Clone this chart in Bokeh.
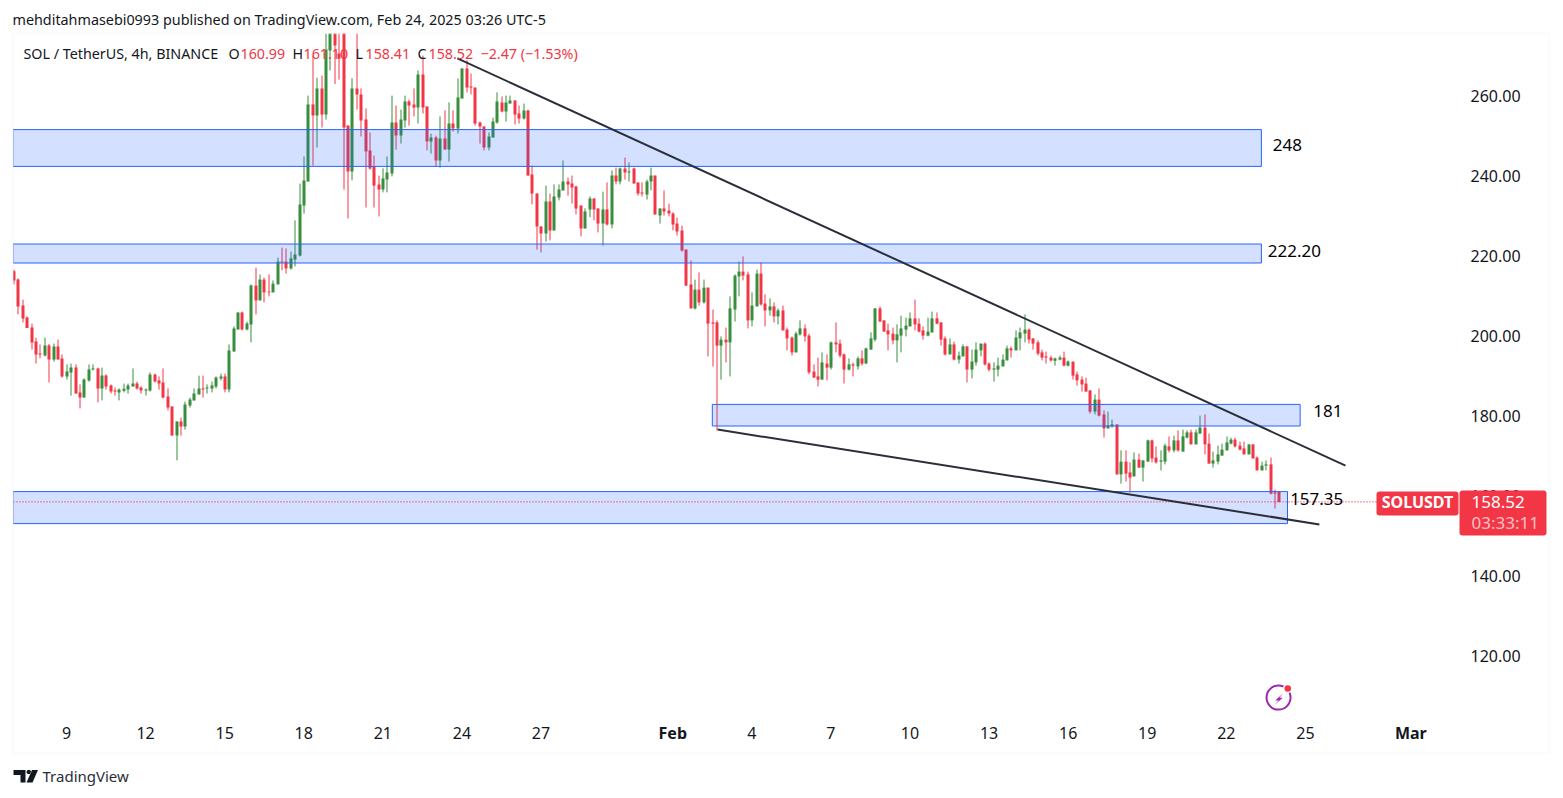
from bokeh.plotting import figure
from bokeh.models import (Range1d, FixedTicker, NumeralTickFormatter, Label, BoxAnnotation, PolyAnnotation,
                          ColumnDataSource)
from bokeh.embed import file_html
from bokeh.resources import INLINE

# 4h candles, one sixth of a day apart, first one on Jan 7
opens = [
216.2,214.1,207.6,204.6,202.1,198.6,195.6,195.1,197.6,194.1,
197.4,194.4,189.9,190.9,192.1,185.9,184.6,188.9,191.6,191.9,
186.9,190.1,187.6,186.4,185.9,186.3,186.6,187.4,188.1,187.1,
186.4,186.4,190.4,188.9,188.4,184.9,182.4,175.1,178.6,177.4,
182.6,183.9,185.4,186.9,186.9,186.9,187.4,189.4,189.9,186.6,
196.1,201.6,205.9,201.6,202.9,212.6,208.9,214.1,211.1,210.9,
212.9,218.6,218.6,216.9,219.1,220.1,232.6,238.6,257.9,255.1,
261.9,255.4,271.4,283.0,270.6,280.0,252.6,241.1,261.9,260.4,
254.1,246.4,242.4,237.9,236.6,239.1,240.6,253.4,250.1,253.9,
258.6,257.9,257.1,265.4,257.4,248.6,249.6,243.9,249.4,246.6,
253.1,251.9,259.4,266.9,262.4,262.1,253.4,252.4,247.1,249.6,
253.4,258.4,256.1,258.1,258.9,255.6,254.4,256.4,240.4,235.6,
227.4,225.6,233.6,226.4,234.6,236.4,238.6,238.1,237.4,232.6,
226.9,231.6,234.4,231.9,228.1,231.6,227.9,240.1,238.6,241.9,
240.9,241.9,238.4,235.9,235.4,238.6,240.1,230.1,231.9,231.4,
230.6,228.1,226.4,221.6,212.9,206.9,211.6,208.4,212.1,203.4,
203.4,197.6,199.1,198.4,206.6,214.9,216.1,215.4,203.9,207.4,
215.6,208.1,206.4,207.4,204.9,206.4,201.6,199.6,195.9,200.4,
201.9,200.1,191.1,189.9,189.1,193.1,192.1,198.4,198.1,195.4,
191.6,192.9,192.4,194.4,193.1,196.6,199.1,206.9,203.9,201.4,
200.6,198.9,200.1,201.6,202.4,204.4,203.1,201.4,200.1,200.9,
204.4,203.4,199.4,195.4,197.9,194.1,194.9,197.4,191.6,193.4,
196.4,198.1,193.1,191.6,191.6,192.4,193.9,196.9,196.4,199.4,
200.6,201.6,199.4,198.4,195.9,194.9,194.6,193.8,194.1,194.6,
192.6,193.6,190.4,189.1,188.1,186.4,181.1,184.1,180.4,176.9,
177.4,177.9,165.4,168.6,165.9,164.9,169.1,167.1,168.6,173.9,
169.6,168.6,168.6,172.4,171.4,173.9,171.1,174.6,175.9,172.9,
175.6,177.1,173.1,168.1,168.6,170.1,171.4,173.1,174.1,172.6,
171.9,170.4,172.9,169.6,166.4,167.6,167.9,160.9,160.99]
highs = [
216.6,214.4,209.1,204.9,203.1,199.6,197.9,199.6,198.0,198.1,
199.1,195.4,192.9,193.1,192.9,187.9,189.4,192.9,192.9,192.1,
192.1,190.4,187.9,187.1,186.9,188.1,188.1,191.9,188.6,187.4,
186.9,190.9,190.6,189.9,191.9,186.9,182.4,178.6,179.6,183.6,
184.6,186.9,190.1,190.1,187.9,188.6,189.9,190.6,190.6,197.9,
202.4,205.9,206.1,203.6,212.9,217.1,215.4,214.6,215.4,213.9,
219.6,222.1,221.9,221.1,228.9,238.1,244.9,260.1,270.1,264.6,
265.1,278.0,295.0,294.0,285.0,285.0,252.6,264.4,276.0,261.9,
256.9,250.9,245.1,240.1,241.9,244.9,260.1,257.6,256.6,260.1,
259.1,261.9,266.4,270.1,257.4,250.6,250.1,254.9,256.4,258.4,
256.4,264.4,266.9,268.9,265.6,262.1,253.6,252.4,250.9,254.6,
260.9,259.9,260.1,260.1,258.9,257.6,258.1,256.6,242.6,235.6,
227.4,237.6,235.6,237.9,237.9,243.9,239.6,240.1,237.6,232.6,
231.9,234.9,234.4,231.9,236.1,238.4,241.4,242.1,242.1,244.6,
243.4,242.1,238.4,238.4,239.1,242.1,240.1,231.9,236.4,233.1,
230.9,229.6,227.6,221.6,218.9,214.1,215.9,214.1,212.1,206.6,
203.9,199.9,202.1,209.9,215.4,218.6,219.9,216.1,210.9,216.6,
218.4,210.4,209.4,208.4,206.9,207.6,202.1,199.9,201.1,203.9,
202.9,200.6,192.9,194.6,195.9,195.4,198.6,203.4,199.1,195.6,
194.4,193.4,194.9,196.4,197.1,200.9,206.9,207.4,203.9,203.1,
202.1,202.9,205.1,204.6,205.9,209.1,204.4,202.4,204.6,206.1,
205.9,203.4,199.9,199.4,198.6,196.1,197.9,197.4,196.6,198.4,
198.1,198.4,193.4,193.4,194.6,195.4,197.6,197.4,201.4,202.1,
205.4,201.9,199.4,198.9,196.6,196.1,195.1,194.6,195.1,196.1,
193.9,193.6,191.1,189.9,189.6,186.4,185.4,186.9,181.4,181.1,
179.1,177.9,171.4,171.4,168.4,170.9,170.6,168.9,174.1,174.1,
172.4,171.4,173.1,174.9,175.1,176.4,176.6,176.4,176.6,176.6,
180.1,180.4,175.6,171.1,172.6,173.1,174.9,174.6,174.6,173.6,
173.6,172.9,172.9,169.9,168.6,168.9,169.6,161.6,161.10]
lows = [
212.9,205.4,203.4,202.0,196.6,193.1,194.4,194.9,188.4,193.6,
194.1,189.6,189.1,185.1,185.6,181.9,184.6,188.6,191.4,183.4,
183.9,186.6,185.6,185.1,183.9,185.9,185.6,187.4,186.6,185.6,
185.1,186.1,188.4,186.6,184.4,181.4,175.1,168.9,175.1,176.6,
182.1,183.9,185.4,184.6,185.6,185.9,186.9,188.9,185.9,185.9,
196.1,201.6,201.4,201.4,198.4,205.4,208.9,208.4,209.9,210.9,
212.9,216.4,215.6,216.6,217.4,219.9,230.6,238.6,242.6,247.1,
252.1,254.1,266.4,263.0,264.1,236.6,229.4,238.9,256.6,249.9,
232.1,241.6,232.1,229.9,235.9,235.9,239.9,246.6,248.1,252.1,
252.6,254.9,253.1,255.6,246.4,245.6,242.4,242.1,246.6,243.6,
251.1,250.6,259.4,260.9,260.4,252.6,248.1,246.4,246.4,249.6,
253.1,255.9,253.6,258.1,252.9,253.1,254.1,240.1,232.9,221.6,
220.9,223.6,223.9,226.4,233.9,236.4,235.1,233.1,230.4,224.9,
226.9,229.7,228.9,225.9,222.6,227.6,226.9,237.9,237.9,239.1,
238.6,238.1,235.1,234.9,234.1,236.4,230.4,228.1,230.1,229.9,
226.4,225.1,221.1,212.6,206.9,206.6,207.6,208.1,194.9,192.4,
176.4,189.1,193.4,189.9,203.6,209.9,213.9,201.9,202.4,207.4,
207.6,202.4,205.1,203.4,202.9,201.4,196.4,195.1,195.9,200.1,
198.6,190.4,189.6,187.4,189.1,188.9,191.6,195.9,194.6,188.1,
191.4,189.9,191.6,192.6,193.1,196.6,198.6,203.6,201.1,196.4,
197.9,193.4,195.9,199.9,202.4,201.4,200.9,199.1,199.9,200.9,
202.9,197.6,195.1,195.4,193.9,193.1,194.9,188.4,189.4,192.6,
194.9,192.6,191.1,188.6,189.9,192.4,193.9,194.6,196.4,196.4,
198.4,198.1,196.6,195.1,193.9,193.1,193.6,192.6,193.9,192.4,
192.4,189.1,187.6,186.1,186.1,180.6,180.4,179.9,174.6,176.9,
177.1,165.4,163.1,163.6,160.9,164.9,167.1,163.6,168.6,168.4,
168.1,166.4,167.9,170.9,170.9,171.1,171.1,174.4,172.9,172.9,
175.6,170.4,168.1,167.1,167.9,170.1,171.4,172.9,172.1,171.4,
170.4,170.4,169.4,166.4,166.4,166.4,160.4,156.9,158.41]
closes = [
213.9,207.4,204.4,202.0,198.4,195.4,195.4,197.6,194.1,197.4,
194.1,189.9,191.1,192.1,185.6,184.6,189.1,191.6,191.9,186.9,
190.1,187.4,186.1,186.1,186.6,186.8,187.6,188.1,186.9,186.4,
186.6,190.4,188.6,188.1,184.6,182.1,175.1,178.6,177.4,182.9,
184.1,185.6,186.9,186.6,187.1,187.6,189.6,189.9,186.6,196.4,
201.9,205.9,201.6,203.1,212.6,208.9,214.1,210.9,210.9,213.1,
218.6,218.4,216.9,219.4,220.4,232.9,238.9,257.9,255.1,261.9,
255.4,271.6,285.0,272.6,269.3,252.1,241.1,261.9,260.4,253.9,
246.1,241.9,237.6,236.6,239.4,240.9,253.4,250.1,254.1,258.6,
257.6,257.1,265.4,257.1,248.6,249.6,243.9,249.4,246.6,253.1,
251.9,259.6,266.9,262.1,262.1,253.1,252.4,247.1,249.9,253.6,
258.6,256.1,258.4,258.9,255.4,254.4,256.4,240.1,235.6,227.4,
225.6,233.6,226.4,234.9,236.6,238.6,237.9,237.1,231.9,226.9,
231.1,234.4,231.6,228.1,231.6,227.9,240.1,238.6,241.9,240.9,
241.1,238.1,235.6,235.6,238.6,240.1,230.4,231.9,231.1,230.6,
227.9,226.1,221.4,212.6,206.9,211.6,208.4,212.1,203.1,203.1,
197.6,199.1,198.4,206.9,215.1,216.1,215.1,203.9,207.6,215.6,
207.9,206.4,207.4,204.9,206.4,201.4,199.4,195.9,200.6,201.9,
199.9,190.9,189.6,189.1,193.4,192.1,198.4,197.9,195.1,191.6,
192.9,192.6,194.4,193.1,196.9,199.4,206.9,203.6,201.1,200.4,
198.9,200.4,201.9,202.6,204.4,202.9,201.1,200.1,201.1,204.4,
203.1,199.1,195.4,197.9,194.1,195.1,197.4,191.6,193.6,196.6,
198.1,192.9,191.6,191.9,192.6,194.1,196.9,196.4,199.6,200.9,
201.6,199.1,198.1,195.6,194.6,194.6,193.9,194.4,194.6,192.6,
193.6,190.1,188.9,187.9,186.1,181.1,184.1,180.1,176.9,177.6,
177.9,165.4,168.6,165.6,164.6,169.1,167.1,168.9,173.9,169.4,
168.4,168.9,172.6,171.4,173.9,171.4,174.9,175.9,172.9,175.9,
177.1,172.9,168.1,168.9,170.4,171.6,173.4,174.1,172.4,171.6,
170.4,172.9,169.4,166.4,167.6,167.9,160.6,160.6,158.52]
assert len(opens) == len(highs) == len(lows) == len(closes) == 289

# support / resistance zones
zone_tops = [251.6, 223.0, 182.9, 161.1]
zone_bottoms = [242.4, 218.25, 177.5, 153.1]
zone_starts = [-2.03, -2.03, 24.5, -2.03]
zone_ends = [45.33, 45.33, 46.8, 46.32]
zone_labels = ["248", "222.20", "181", "157.35"]
zone_label_x = [45.76, 45.57, 47.3, 46.42]
zone_label_y = [247.85, 221.25, 181.25, 159.15]

# trend lines: start day, end day, start price, end price
upper_days = [14.83, 48.52]
upper_prices = [269.4, 167.6]
lower_days = [24.7, 47.53]
lower_prices = [176.6, 152.9]

price_ticks = [120, 140, 160, 180, 200, 220, 240, 260]
day_ticks = [0, 3, 6, 9, 12, 15, 18, 26, 29, 32, 35, 38, 41, 44, 47]
day_labels = ["9", "12", "15", "18", "21", "24", "27", "4", "7", "10", "13", "16", "19", "22", "25"]
month_ticks = [23, 51]
month_labels = ["Feb", "Mar"]
last_close = 158.52
last_line_days = [-2.0106, 52.845]

UP, DOWN = "#388e3c", "#f23645"
INK = "#131722"
FONT = "Noto Sans"

W, H = 1555, 790  # the frame fills the whole page, decorations are annotations inside it
X0, XPX = -2.5038, W / 58.9909  # first visible day, pixels per day
VISIBLE_TOP = 281.0  # anything above this is hidden behind the header mask in the reference as well
def sx(px): return px
def sy(py): return H - py
def snap(day):  # centre a candle on a whole device pixel so wicks stay crisp
    return (int((day - X0) * XPX) + 0.5) / XPX + X0

p = figure(frame_width=W, frame_height=H, toolbar_location=None, output_backend="svg",
           x_range=Range1d(X0, 56.4871), y_range=Range1d(86.375, 283.875),
           y_axis_location="right", min_border_left=0, min_border_top=0,
           min_border_right=0, min_border_bottom=0, outline_line_color=None,
           background_fill_color="white", border_fill_color="white")
p.grid.visible = False

for ax in (p.xaxis[0], p.yaxis[0]):
    ax.axis_line_color = None
    ax.major_tick_line_color = None
    ax.minor_tick_line_color = None
    ax.major_label_text_color = INK
    ax.major_label_text_font = FONT
    ax.major_label_text_font_size = "16px"
p.xaxis[0].ticker = FixedTicker(ticks=day_ticks)
p.xaxis[0].major_label_overrides = dict(zip(day_ticks, day_labels))
p.xaxis[0].major_label_standoff = -(H - 720)
p.yaxis[0].ticker = FixedTicker(ticks=price_ticks)
p.yaxis[0].formatter = NumeralTickFormatter(format="0.00")
p.yaxis[0].major_label_standoff = -(W - 1464)

times = [snap(-2 + 0.01 + i / 6) for i in range(len(opens))]
colors = [UP if c >= o else DOWN for o, c in zip(opens, closes)]
src = ColumnDataSource(dict(x=times, o=opens, h=[min(h, VISIBLE_TOP) for h in highs], l=lows, c=closes,
                            top=[min(max(o, c), VISIBLE_TOP) for o, c in zip(opens, closes)],
                            bottom=[min(o, c) for o, c in zip(opens, closes)], color=colors))
p.segment("x", "h", "x", "l", source=src, line_color="color", line_width=1)
p.vbar("x", 3 / XPX, "top", "bottom", source=src, fill_color="color", line_color=None)

p.quad(left=zone_starts, right=zone_ends, top=zone_tops, bottom=zone_bottoms,
       fill_color="#2962ff", fill_alpha=0.2, line_color="#2962ff", line_width=1)

p.line(last_line_days, [last_close, last_close], line_color=DOWN, line_width=1.2, line_dash="1 2")

p.line(upper_days, upper_prices, line_color="#2a2e39", line_width=2)
p.line(lower_days, lower_prices, line_color="#2a2e39", line_width=2)

def box(l, r, t, b, color, radius=0, line=None, lw=0, alpha=1):
    p.add_layout(BoxAnnotation(left=sx(l), right=sx(r), top=sy(t), bottom=sy(b),
                               left_units="screen", right_units="screen", top_units="screen", bottom_units="screen",
                               fill_color=color, fill_alpha=alpha, line_color=line, line_width=lw, border_radius=radius))

def text(x, y, s, color=INK, size="16px", align="left", style="normal", alpha=1.0, units="screen", font=FONT):
    p.add_layout(Label(x=x, y=y, x_units=units, y_units=units, text=s, text_color=color, text_font=font,
                       text_font_size=size, text_align=align, text_baseline="middle",
                       text_font_style=style, text_alpha=alpha))

# white masks: candles stop at the chart card's edges
box(-5, W + 5, -5, 33, "white")
box(-5, 12.5, -5, H + 5, "white")
box(12.5, 1549, 33, 753, "white", line="#f0f3fa", lw=2, alpha=0)

for x, y, s in zip(zone_label_x, zone_label_y, zone_labels):
    text(x, y, s, color="#000000", size="17px", units="data")

# header, legend
text(sx(12), sy(19), "mehditahmasebi0993 published on TradingView.com, Feb 24, 2025 03:26 UTC-5", size="14.35px")
text(sx(23), sy(53), "SOL / TetherUS, 4h, BINANCE", size="14.3px")
for x, s, c in [(228, "O", INK), (240, "160.99", DOWN), (292, "H", INK), (303, "161.10", DOWN),
                (355, "L", INK), (365, "158.41", DOWN), (417, "C", INK), (428, "158.52", DOWN),
                (480, "\u22122.47 (\u22121.53%)", DOWN)]:
    text(sx(x), sy(53), s, color=c, size="14.3px")

# month labels on the time axis
for d, s in zip(month_ticks, month_labels):
    p.add_layout(Label(x=d, y=sy(732.5), x_units="data", y_units="screen", text=s, text_color=INK,
                       text_font=FONT, text_font_size="16px", text_align="center", text_baseline="middle",
                       text_font_style="bold"))

# last price badges
box(1376, 1458, 491, 515, DOWN, radius=3)
box(1459, 1546, 490, 535, DOWN, radius=3)
text(sx(1417), sy(501), "SOLUSDT", color="white", size="16px", align="center", style="bold")
text(sx(1471), sy(501.5), "158.52", color="white", size="17px")
text(sx(1471), sy(522), "03:33:11", color="white", size="17px", alpha=0.7)

# footer logo and wordmark
def poly(pts, color):
    p.add_layout(PolyAnnotation(xs=[sx(a) for a, b in pts], ys=[sy(b) for a, b in pts],
                                xs_units="screen", ys_units="screen", fill_color=color, fill_alpha=1,
                                line_color=color, line_width=0))
poly([(13, 769.5), (25, 769.5), (25, 782), (20, 782), (20, 774.5), (13, 774.5)], "#131722")
poly([(27, 769.5), (29.5, 769.5), (30.5, 771), (29.5, 773.5), (27, 773.5), (25.8, 771.5)], "#131722")
poly([(31.5, 769.5), (37.5, 769.5), (32, 782), (26, 782)], "#131722")
text(sx(42), sy(775.5), "TradingView", size="15px", color="#2a2e39")

# lightning icon
p.scatter([45.98], [109.6], marker="circle", size=24, fill_color=None, line_color="#9c27b0", line_width=2)
poly([(1282.7, 692.7), (1274.7, 700), (1278.3, 700), (1273.5, 705), (1282.3, 697.3), (1279, 697.3)], "#9c27b0")
p.scatter([46.33], [111.9], marker="circle", size=8, fill_color=DOWN, line_color="white", line_width=1.5)

open("out.html", "w").write(file_html(p, INLINE))
